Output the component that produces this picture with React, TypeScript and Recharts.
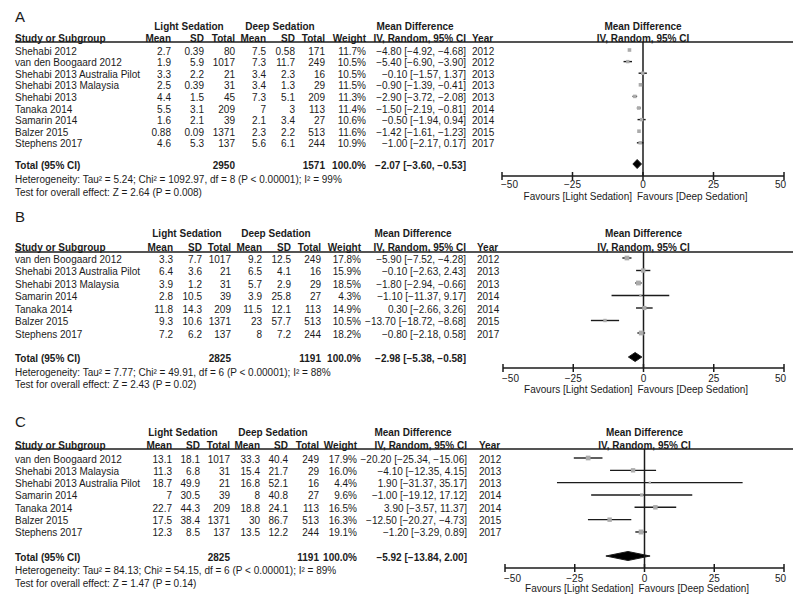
import React from "react";
import { ComposedChart, XAxis, YAxis, Scatter, Line, Area, ReferenceLine } from "recharts";

// ---- data: panel A ----
const namesA = ["Shehabi 2012", "van den Boogaard 2012", "Shehabi 2013 Australia Pilot", "Shehabi 2013 Malaysia", "Shehabi 2013", "Tanaka 2014", "Samarin 2014", "Balzer 2015", "Stephens 2017"];
const yearsA = [2012, 2012, 2013, 2013, 2013, 2014, 2014, 2015, 2017];
// [mean, sd, total]
const lightA = [[2.7, 0.39, 80], [1.9, 5.9, 1017], [3.3, 2.2, 21], [2.5, 0.39, 31], [4.4, 1.5, 45], [5.5, 3.1, 209], [1.6, 2.1, 39], [0.88, 0.09, 1371], [4.6, 5.3, 137]];
const deepA = [[7.5, 0.58, 171], [7.3, 11.7, 249], [3.4, 2.3, 16], [3.4, 1.3, 29], [7.3, 5.1, 209], [7, 3, 113], [2.1, 3.4, 27], [2.3, 2.2, 513], [5.6, 6.1, 244]];
const weightsA = [11.7, 10.5, 10.5, 11.5, 11.3, 11.4, 10.6, 11.6, 10.9];
// [md, lower, upper]
const effectsA = [[-4.8, -4.92, -4.68], [-5.4, -6.9, -3.9], [-0.1, -1.57, 1.37], [-0.9, -1.39, -0.41], [-2.9, -3.72, -2.08], [-1.5, -2.19, -0.81], [-0.5, -1.94, 0.94], [-1.42, -1.61, -1.23], [-1.0, -2.17, 0.17]];
// [light total, deep total, md, lower, upper]
const totalsA = [2950, 1571, -2.07, -3.6, -0.53];
const statsA = ["Heterogeneity: Tau\u00B2 = 5.24; Chi\u00B2 = 1092.97, df = 8 (P < 0.00001); I\u00B2 = 99%", "Test for overall effect: Z = 2.64 (P = 0.008)"];

// ---- data: panel B ----
const namesB = ["van den Boogaard 2012", "Shehabi 2013 Australia Pilot", "Shehabi 2013 Malaysia", "Samarin 2014", "Tanaka 2014", "Balzer 2015", "Stephens 2017"];
const yearsB = [2012, 2013, 2013, 2014, 2014, 2015, 2017];
const lightB = [[3.3, 7.7, 1017], [6.4, 3.6, 21], [3.9, 1.2, 31], [2.8, 10.5, 39], [11.8, 14.3, 209], [9.3, 10.6, 1371], [7.2, 6.2, 137]];
const deepB = [[9.2, 12.5, 249], [6.5, 4.1, 16], [5.7, 2.9, 29], [3.9, 25.8, 27], [11.5, 12.1, 113], [23, 57.7, 513], [8, 7.2, 244]];
const weightsB = [17.8, 15.9, 18.5, 4.3, 14.9, 10.5, 18.2];
const effectsB = [[-5.9, -7.52, -4.28], [-0.1, -2.63, 2.43], [-1.8, -2.94, -0.66], [-1.1, -11.37, 9.17], [0.3, -2.66, 3.26], [-13.7, -18.72, -8.68], [-0.8, -2.18, 0.58]];
const totalsB = [2825, 1191, -2.98, -5.38, -0.58];
const statsB = ["Heterogeneity: Tau\u00B2 = 7.77; Chi\u00B2 = 49.91, df = 6 (P < 0.00001); I\u00B2 = 88%", "Test for overall effect: Z = 2.43 (P = 0.02)"];

// ---- data: panel C ----
const namesC = ["van den Boogaard 2012", "Shehabi 2013 Malaysia", "Shehabi 2013 Australia Pilot", "Samarin 2014", "Tanaka 2014", "Balzer 2015", "Stephens 2017"];
const yearsC = [2012, 2013, 2013, 2014, 2014, 2015, 2017];
const lightC = [[13.1, 18.1, 1017], [11.3, 6.8, 31], [18.7, 49.9, 21], [7, 30.5, 39], [22.7, 44.3, 209], [17.5, 38.4, 1371], [12.3, 8.5, 137]];
const deepC = [[33.3, 40.4, 249], [15.4, 21.7, 29], [16.8, 52.1, 16], [8, 40.8, 27], [18.8, 24.1, 113], [30, 86.7, 513], [13.5, 12.2, 244]];
const weightsC = [17.9, 16.0, 4.4, 9.6, 16.5, 16.3, 19.1];
const effectsC = [[-20.2, -25.34, -15.06], [-4.1, -12.35, 4.15], [1.9, -31.37, 35.17], [-1.0, -19.12, 17.12], [3.9, -3.57, 11.37], [-12.5, -20.27, -4.73], [-1.2, -3.29, 0.89]];
const totalsC = [2825, 1191, -5.92, -13.84, 2.0];
const statsC = ["Heterogeneity: Tau\u00B2 = 84.13; Chi\u00B2 = 54.15, df = 6 (P < 0.00001); I\u00B2 = 89%", "Test for overall effect: Z = 1.47 (P = 0.14)"];

const xTicks = [-50, -25, 0, 25, 50];

const FONT = "'Liberation Sans', Arial, sans-serif";
const INK = "#1b1b1b";
const MARKER = "#ababab";
const MINUS = "\u2212";

const fmt = (v: number, d?: number) => {
    const s = d === undefined ? String(Math.abs(v)) : Math.abs(v).toFixed(d);
    return v < 0 && Number(s) !== 0 ? MINUS + s : s;
};

// page layout of each panel (pixels)
const layoutA = {
    top: 0, height: 199, plotTop: 42, plotBottom: 176, xLeft: 502, xRight: 784,
    rowStart: 50, rowStep: 11.6, totalY: 164,
    labelY: 15, head1Y: 25, head2Y: 37, hetY: 178, testY: 191, tickDy: 7, favDy: 19,
    cols: { mean: 171, sd: 204, n: 235, dMean: 266, dSd: 295, dN: 325, weight: 366, ci: 466, year: 472 },
    lightC: 189, deepC: 280, mdC: 415,
};
const layoutB = {
    top: 199, height: 197, plotTop: 53, plotBottom: 169, xLeft: 503, xRight: 784,
    rowStart: 59, rowStep: 12.5, totalY: 158,
    labelY: 16, head1Y: 33, head2Y: 47, hetY: 172, testY: 184, tickDy: 9, favDy: 20,
    cols: { mean: 173, sd: 202, n: 231, dMean: 262, dSd: 291, dN: 321, weight: 361, ci: 466, year: 477 },
    lightC: 187, deepC: 276, mdC: 413,
};
const layoutC = {
    top: 396, height: 203, plotTop: 53, plotBottom: 172, xLeft: 505, xRight: 784,
    rowStart: 62, rowStep: 12.33, totalY: 160,
    labelY: 24, head1Y: 35, head2Y: 48, hetY: 173, testY: 186, tickDy: 9, favDy: 19,
    cols: { mean: 172, sd: 200, n: 230, dMean: 260, dSd: 288, dN: 319, weight: 357, ci: 467, year: 479 },
    lightC: 183, deepC: 273, mdC: 413,
};

const T = ({ x, y, anchor = "start", bold = false, size = 10, children }: any) => (
    <text x={x} y={y + 1} textAnchor={anchor} dominantBaseline="central" fontFamily={FONT}
        fontSize={size} fontWeight={bold ? 700 : 400} fill={INK}>{children}</text>
);

const ciText = (md: number, lo: number, hi: number) => `${fmt(md, 2)} [${fmt(lo, 2)}, ${fmt(hi, 2)}]`;

const ForestPanel = ({ letter, names, years, light, deep, weights, effects, totals, stats, L }: any) => {
    const yDomain = [(L.plotTop - L.rowStart) / L.rowStep, (L.plotBottom - L.rowStart) / L.rowStep];
    const totalRow = (L.totalY - L.rowStart) / L.rowStep;
    const c = L.cols;
    const [tLight, tDeep, tMd, tLo, tHi] = totals;

    const tableData = [
        ...names.map((name: string, i: number) => ({ x: 0, y: i, name, i })),
        { x: 0, y: totalRow, total: true },
    ];
    const markers = effects.map((e: number[], i: number) => ({ x: e[0], y: i, w: weights[i] }));
    const half = 4.5 / L.rowStep;
    const diamond = [
        { x: tLo, r: [totalRow, totalRow] },
        { x: tMd, r: [totalRow - half, totalRow + half] },
        { x: tHi, r: [totalRow, totalRow] },
    ];

    const TableRow = (props: any) => {
        const p = props.payload ?? props;
        const cy = props.cy;
        if (p.total) {
            return (
                <g>
                    <T x={15} y={cy} bold>Total (95% CI)</T>
                    <T x={c.n} y={cy} anchor="end" bold>{tLight}</T>
                    <T x={c.dN} y={cy} anchor="end" bold>{tDeep}</T>
                    <T x={c.weight} y={cy} anchor="end" bold>100.0%</T>
                    <T x={c.ci} y={cy} anchor="end" bold>{ciText(tMd, tLo, tHi)}</T>
                </g>
            );
        }
        const i = p.i;
        const [lm, ls, ln] = light[i];
        const [dm, ds, dn] = deep[i];
        const [md, lo, hi] = effects[i];
        return (
            <g>
                <T x={15} y={cy}>{p.name}</T>
                <T x={c.mean} y={cy} anchor="end">{fmt(lm)}</T>
                <T x={c.sd} y={cy} anchor="end">{fmt(ls)}</T>
                <T x={c.n} y={cy} anchor="end">{ln}</T>
                <T x={c.dMean} y={cy} anchor="end">{fmt(dm)}</T>
                <T x={c.dSd} y={cy} anchor="end">{fmt(ds)}</T>
                <T x={c.dN} y={cy} anchor="end">{dn}</T>
                <T x={c.weight} y={cy} anchor="end">{weights[i].toFixed(1)}%</T>
                <T x={c.ci} y={cy} anchor="end">{ciText(md, lo, hi)}</T>
                <T x={c.year} y={cy}>{years[i]}</T>
            </g>
        );
    };

    const Square = (props: any) => {
        const p = props.payload ?? props;
        const s = 1.5 + p.w * 0.18;
        return <rect x={props.cx - s / 2} y={props.cy - s / 2} width={s} height={s} fill={MARKER} />;
    };

    const AxisTick = (props: any) => {
        const { x, y, payload, index } = props;
        const v = payload.value;
        const last = xTicks.length - 1;
        const anchor = index === 0 ? "start" : index === last ? "end" : "middle";
        const tx = index === 0 ? x - 1 : index === last ? x + 2 : x;
        return (
            <g>
                <line x1={x} x2={x} y1={y - 4} y2={y + 4} stroke={INK} strokeWidth={1.5} />
                <T x={tx} y={y + L.tickDy} anchor={anchor}>{fmt(v)}</T>
                {v === 0 && (
                    <g>
                        <T x={x - 11} y={y + L.favDy} anchor="end">Favours [Light Sedation]</T>
                        <T x={x - 6} y={y + L.favDy}>Favours [Deep Sedation]</T>
                    </g>
                )}
            </g>
        );
    };

    const plotMid = (L.xLeft + L.xRight) / 2;

    return (
        <div style={{ position: "absolute", left: 0, top: L.top, width: 800, height: L.height }}>
            <ComposedChart width={800} height={L.height}
                margin={{ top: L.plotTop, right: 800 - L.xRight, bottom: 0, left: L.xLeft }}>
                <XAxis type="number" dataKey="x" domain={[-50, 50]} ticks={xTicks} interval={0}
                    height={L.height - L.plotBottom} tickSize={0} tickMargin={0} tickLine={false}
                    axisLine={{ stroke: INK, strokeWidth: 1.5 }} tick={(p: any) => <AxisTick {...p} />} />
                <YAxis type="number" dataKey="y" domain={yDomain} reversed hide />
                <ReferenceLine x={0} stroke={INK} strokeWidth={1.5} />
                <Scatter data={tableData} dataKey="y" shape={(p: any) => <TableRow {...p} />} isAnimationActive={false} />
                {effects.map((e: number[], i: number) => (
                    <Line key={`ci-${i}`} data={[{ x: e[1], y: i }, { x: e[2], y: i }]} dataKey="y" type="linear"
                        stroke={INK} strokeWidth={1.4} dot={false} activeDot={false} isAnimationActive={false} />
                ))}
                <Scatter data={markers} dataKey="y" shape={(p: any) => <Square {...p} />} isAnimationActive={false} />
                <Area data={diamond} dataKey="r" type="linear" stroke={INK} strokeWidth={1} fill="#000"
                    fillOpacity={1} dot={false} activeDot={false} isAnimationActive={false} />
            </ComposedChart>
            <svg width={800} height={L.height} style={{ position: "absolute", left: 0, top: 0, pointerEvents: "none", overflow: "visible" }}>
                <T x={15} y={L.labelY} size={15}>{letter}</T>
                <T x={L.lightC} y={L.head1Y} anchor="middle" bold>Light Sedation</T>
                <T x={L.deepC} y={L.head1Y} anchor="middle" bold>Deep Sedation</T>
                <T x={L.mdC} y={L.head1Y} anchor="middle" bold>Mean Difference</T>
                <T x={plotMid} y={L.head1Y} anchor="middle" bold>Mean Difference</T>
                <T x={15} y={L.head2Y} bold>Study or Subgroup</T>
                <T x={c.mean} y={L.head2Y} anchor="end" bold>Mean</T>
                <T x={c.sd} y={L.head2Y} anchor="end" bold>SD</T>
                <T x={c.n} y={L.head2Y} anchor="end" bold>Total</T>
                <T x={c.dMean} y={L.head2Y} anchor="end" bold>Mean</T>
                <T x={c.dSd} y={L.head2Y} anchor="end" bold>SD</T>
                <T x={c.dN} y={L.head2Y} anchor="end" bold>Total</T>
                <T x={c.weight} y={L.head2Y} anchor="end" bold>Weight</T>
                <T x={c.ci} y={L.head2Y} anchor="end" bold>IV, Random, 95% CI</T>
                <T x={c.year} y={L.head2Y} bold>Year</T>
                <T x={plotMid} y={L.head2Y} anchor="middle" bold>IV, Random, 95% CI</T>
                <line x1={15} x2={793} y1={L.plotTop} y2={L.plotTop} stroke={INK} strokeWidth={1.5} />
                <T x={15} y={L.hetY}>{stats[0]}</T>
                <T x={15} y={L.testY}>{stats[1]}</T>
            </svg>
        </div>
    );
};

export default function App() {
    return (
        <div style={{ position: "absolute", left: 0, top: 0, width: 800, height: 599, background: "#fff", overflow: "hidden" }}>
            <style>{`.recharts-surface { overflow: visible; }`}</style>
            <ForestPanel letter="A" names={namesA} years={yearsA} light={lightA} deep={deepA} weights={weightsA}
                effects={effectsA} totals={totalsA} stats={statsA} L={layoutA} />
            <ForestPanel letter="B" names={namesB} years={yearsB} light={lightB} deep={deepB} weights={weightsB}
                effects={effectsB} totals={totalsB} stats={statsB} L={layoutB} />
            <ForestPanel letter="C" names={namesC} years={yearsC} light={lightC} deep={deepC} weights={weightsC}
                effects={effectsC} totals={totalsC} stats={statsC} L={layoutC} />
        </div>
    );
}
